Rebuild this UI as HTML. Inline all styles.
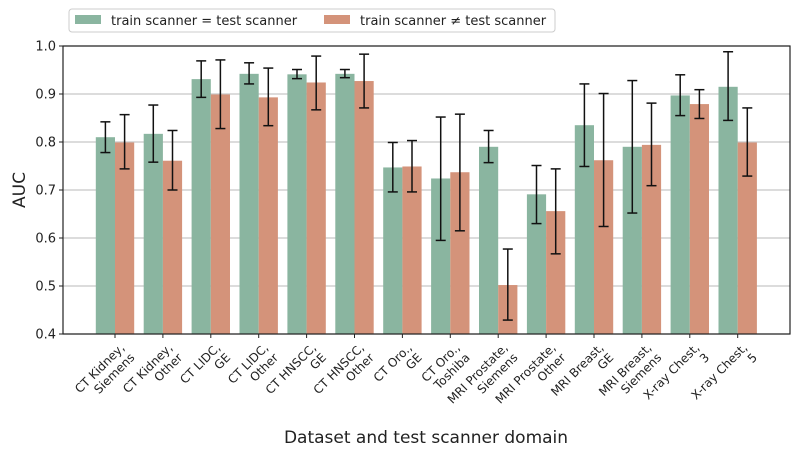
<!DOCTYPE html>
<html><head><meta charset="utf-8"><style>body{margin:0;background:#fff}svg{display:block;font-family:"DejaVu Sans","Liberation Sans",sans-serif}</style></head>
<body>
<svg id="chart" width="800" height="457" viewBox="0 0 800 457"></svg>
<script>
const categories=[["CT Kidney,","Siemens"],["CT Kidney,","Other"],["CT LIDC,","GE"],["CT LIDC,","Other"],["CT HNSCC,","GE"],["CT HNSCC,","Other"],["CT Oro.,","GE"],["CT Oro.,","Toshiba"],["MRI Prostate,","Siemens"],["MRI Prostate,","Other"],["MRI Breast,","GE"],["MRI Breast,","Siemens"],["X-ray Chest,","3"],["X-ray Chest,","5"]];
const sameVals=[0.810,0.817,0.931,0.942,0.941,0.942,0.747,0.724,0.790,0.691,0.835,0.790,0.897,0.915];
const sameHi=[0.842,0.877,0.969,0.965,0.951,0.951,0.799,0.852,0.824,0.751,0.921,0.928,0.940,0.988];
const sameLo=[0.778,0.758,0.893,0.921,0.932,0.934,0.696,0.595,0.757,0.630,0.749,0.652,0.855,0.845];
const diffVals=[0.799,0.761,0.899,0.893,0.924,0.927,0.749,0.737,0.502,0.656,0.762,0.794,0.879,0.799];
const diffHi=[0.857,0.824,0.971,0.954,0.979,0.983,0.803,0.858,0.577,0.744,0.901,0.881,0.909,0.871];
const diffLo=[0.744,0.700,0.828,0.834,0.867,0.871,0.696,0.615,0.429,0.567,0.624,0.709,0.849,0.729];
const yTicks=[0.4,0.5,0.6,0.7,0.8,0.9,1.0];
const NS="http://www.w3.org/2000/svg",svg=document.getElementById('chart');
const L=63,R=790,T=46,B=334,x0=115,step=47.9,bw=19.2;
const X=i=>x0+step*i, Y=v=>B-(v-0.4)/0.6*(B-T);
function el(t,a,p){const e=document.createElementNS(NS,t);for(const k in a)e.setAttribute(k,a[k]);(p||svg).appendChild(e);return e;}
const grid=el('g',{});
yTicks.forEach(v=>{
 const l=el('line',{x1:L,x2:R,y1:Y(v),y2:Y(v),stroke:'#c8c8c8','stroke-width':1.2},grid);
 
 const t=el('text',{x:L-7,y:Y(v)+4.5,'text-anchor':'end','font-size':13,fill:'#222'});t.textContent=v.toFixed(1);
 
 el('line',{x1:L-4,x2:L,y1:Y(v),y2:Y(v),stroke:'#222'});
});
function err(x,hi,lo){const g=el('g',{stroke:'#111','stroke-width':1.5});
 
 el('line',{x1:x,x2:x,y1:Y(hi),y2:Y(lo)},g);el('line',{x1:x-5,x2:x+5,y1:Y(hi),y2:Y(hi)},g);el('line',{x1:x-5,x2:x+5,y1:Y(lo),y2:Y(lo)},g);}
categories.forEach((c,i)=>{
 const g=el('rect',{x:X(i)-bw,y:Y(sameVals[i]),width:bw,height:B-Y(sameVals[i]),fill:'#8ab5a0'});
 
 const o=el('rect',{x:X(i),y:Y(diffVals[i]),width:bw,height:B-Y(diffVals[i]),fill:'#d4937a'});
 
 err(X(i)-bw/2,sameHi[i],sameLo[i]);err(X(i)+bw/2,diffHi[i],diffLo[i]);
 el('line',{x1:X(i),x2:X(i),y1:B,y2:B+4,stroke:'#222'});
 const t=el('text',{transform:`translate(${X(i)+4},${B+8}) rotate(-45)`,'text-anchor':'end','font-size':12,fill:'#222'});
 
 el('tspan',{x:0,y:9},t).textContent=c[0];el('tspan',{x:0,y:23},t).textContent=c[1];
});
const f=el('rect',{x:L,y:T,width:R-L,height:B-T,fill:'none',stroke:'#222','stroke-width':1.2});

const yl=el('text',{transform:'translate(25,190) rotate(-90)','text-anchor':'middle','font-size':17,fill:'#222'});yl.textContent='AUC';

const xl=el('text',{x:426,y:443,'text-anchor':'middle','font-size':17,fill:'#222'});xl.textContent='Dataset and test scanner domain';

const lg=el('g',{});
el('rect',{x:69,y:9,width:486,height:23,rx:3,fill:'#fff',stroke:'#ccc'},lg);
const e1=el('g',{},lg);
el('rect',{x:75,y:15,width:26,height:9,fill:'#8ab5a0'},e1);
el('text',{x:111,y:25,'font-size':13,fill:'#222'},e1).textContent='train scanner = test scanner';
const e2=el('g',{},lg);
el('rect',{x:324,y:15,width:26,height:9,fill:'#d4937a'},e2);
el('text',{x:360,y:25,'font-size':13,fill:'#222'},e2).textContent='train scanner ≠ test scanner';
</script>
</body></html>
